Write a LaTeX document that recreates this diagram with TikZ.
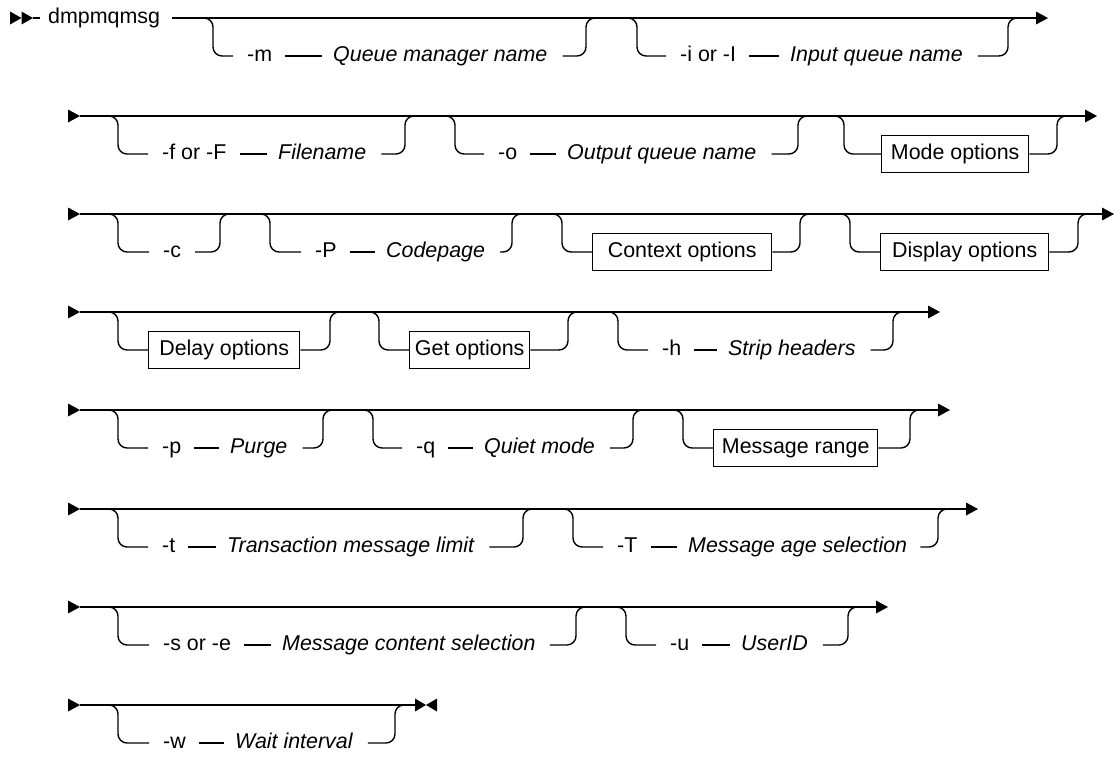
\documentclass[tikz,border=0pt]{standalone}
\usepackage{fontspec}
\setmainfont{Liberation Sans}
\newcommand\grpin[3]{\draw[trk] ([xshift=-12pt]#1) -- (#1) |- ([xshift=-#3]#2.west);}
\newcommand\grpout[3]{\draw[trk] ([xshift=#3]#2.east) -| (#1) -- ([xshift=12pt]#1);}
\newcommand\dashln[2]{\draw[ln] ([xshift=13pt]#1.east) -- ([xshift=-11pt]#2.west);}
\newcommand\rtip[1]{\fill (#1) -- ++(-12,-6.5) -- ++(0,13) -- cycle;}
\begin{document}
\begin{tikzpicture}[x=1pt,y=-1pt,
  ln/.style={line width=1.4pt},
  trk/.style={line width=1.4pt, rounded corners=9pt},
  kw/.style={font=\fontsize{21.4}{25}\selectfont, inner sep=0pt, anchor=west, text height=14pt, text depth=4pt},
  var/.style={kw, font=\fontsize{21.4}{25}\selectfont\itshape},
  optbox/.style={draw, line width=1.4pt, minimum height=37pt, inner sep=0pt, font=\fontsize{21.4}{25}\selectfont, text height=14pt, text depth=4pt, anchor=west},
]
\useasboundingbox (0,0) rectangle (1115,756);

% ---------------- Row 1 ----------------
\fill (10,11.5) -- (21.5,18) -- (10,24.5) -- cycle;
\fill (21.5,11.5) -- (33,18) -- (21.5,24.5) -- cycle;
\coordinate (r1s) at (33,18);
\coordinate (r1e) at (1048,18);
\node[kw] (cmd) at (48,18) {dmpmqmsg};
\draw[ln] (r1s) -- ([xshift=-8pt]cmd.west);
\draw[ln] ([xshift=12pt]cmd.east) -- ([xshift=-6pt]r1e);
\rtip{r1e}
\coordinate (aL) at (213,18); \coordinate (aR) at (586,18);
\node[kw] (oM) at (247,56) {-m};
\node[var] (vQM) at (333,56) {Queue manager name};
\grpin{aL}{oM}{14pt} \dashln{oM}{vQM} \grpout{aR}{vQM}{15pt}
\coordinate (bL) at (637,18); \coordinate (bR) at (1008,18);
\node[kw] (oI) at (680,56) {-i or -I};
\node[var] (vIQ) at (790,56) {Input queue name};
\grpin{bL}{oI}{14pt} \dashln{oI}{vIQ} \grpout{bR}{vIQ}{15pt}

% ---------------- Row 2 ----------------
\fill (68,109.5) -- (80,116) -- (68,122.5) -- cycle;
\coordinate (r2s) at (80,116); \coordinate (r2e) at (1097,116);
\draw[ln] (r2s) -- ([xshift=-6pt]r2e); \rtip{r2e}
\coordinate (cL) at (118,116); \coordinate (cR) at (405,116);
\node[kw] (oF) at (162,154) {-f or -F};
\node[var] (vFN) at (278,154) {Filename};
\grpin{cL}{oF}{14pt} \dashln{oF}{vFN} \grpout{cR}{vFN}{15pt}
\coordinate (dL) at (455,116); \coordinate (dR) at (798,116);
\node[kw] (oO) at (498,154) {-o};
\node[var] (vOQ) at (567,154) {Output queue name};
\grpin{dL}{oO}{14pt} \dashln{oO}{vOQ} \grpout{dR}{vOQ}{15pt}
\coordinate (eL) at (844,116); \coordinate (eR) at (1057,116);
\node[optbox, minimum width=147pt] (bMode) at (881,154) {Mode options};
\grpin{eL}{bMode}{0pt} \grpout{eR}{bMode}{0pt}

% ---------------- Row 3 ----------------
\fill (68,207.5) -- (80,214) -- (68,220.5) -- cycle;
\coordinate (r3s) at (80,214); \coordinate (r3e) at (1114,214);
\draw[ln] (r3s) -- ([xshift=-6pt]r3e); \rtip{r3e}
\coordinate (fL) at (118,214); \coordinate (fR) at (220,214);
\node[kw] (oC) at (163,252) {-c};
\grpin{fL}{oC}{14pt} \grpout{fR}{oC}{14pt}
\coordinate (gL) at (270,214); \coordinate (gR) at (512,214);
\node[kw] (oP) at (315,252) {-P};
\node[var] (vCP) at (386,252) {Codepage};
\grpin{gL}{oP}{14pt} \dashln{oP}{vCP} \grpout{gR}{vCP}{15pt}
\coordinate (hL) at (562,214); \coordinate (hR) at (800,214);
\node[optbox, minimum width=179pt] (bCtx) at (592,252) {Context options};
\grpin{hL}{bCtx}{0pt} \grpout{hR}{bCtx}{0pt}
\coordinate (iL) at (850,214); \coordinate (iR) at (1078,214);
\node[optbox, minimum width=168pt] (bDisp) at (880,252) {Display options};
\grpin{iL}{bDisp}{0pt} \grpout{iR}{bDisp}{0pt}

% ---------------- Row 4 ----------------
\fill (68,305.5) -- (80,312) -- (68,318.5) -- cycle;
\coordinate (r4s) at (80,312); \coordinate (r4e) at (940,312);
\draw[ln] (r4s) -- ([xshift=-6pt]r4e); \rtip{r4e}
\coordinate (jL) at (118,312); \coordinate (jR) at (330,312);
\node[optbox, minimum width=151pt] (bDelay) at (148,350) {Delay options};
\grpin{jL}{bDelay}{0pt} \grpout{jR}{bDelay}{0pt}
\coordinate (kL) at (379,312); \coordinate (kR) at (568,312);
\node[optbox, minimum width=120pt] (bGet) at (409,350) {Get options};
\grpin{kL}{bGet}{0pt} \grpout{kR}{bGet}{0pt}
\coordinate (lL) at (618,312); \coordinate (lR) at (893,312);
\node[kw] (oH) at (662,350) {-h};
\node[var] (vSH) at (728,350) {Strip headers};
\grpin{lL}{oH}{14pt} \dashln{oH}{vSH} \grpout{lR}{vSH}{15pt}

% ---------------- Row 5 ----------------
\fill (68,403.5) -- (80,410) -- (68,416.5) -- cycle;
\coordinate (r5s) at (80,410); \coordinate (r5e) at (950,410);
\draw[ln] (r5s) -- ([xshift=-6pt]r5e); \rtip{r5e}
\coordinate (mL) at (118,410); \coordinate (mR) at (323,410);
\node[kw] (oPp) at (162,448) {-p};
\node[var] (vPu) at (230,448) {Purge};
\grpin{mL}{oPp}{14pt} \dashln{oPp}{vPu} \grpout{mR}{vPu}{15pt}
\coordinate (nL) at (373,410); \coordinate (nR) at (633,410);
\node[kw] (oQ) at (416,448) {-q};
\node[var] (vQu) at (484,448) {Quiet mode};
\grpin{nL}{oQ}{14pt} \dashln{oQ}{vQu} \grpout{nR}{vQu}{15pt}
\coordinate (pL) at (683,410); \coordinate (pR) at (910,410);
\node[optbox, minimum width=164pt] (bMR) at (713,448) {Message range};
\grpin{pL}{bMR}{0pt} \grpout{pR}{bMR}{0pt}

% ---------------- Row 6 ----------------
\fill (68,502.5) -- (80,509) -- (68,515.5) -- cycle;
\coordinate (r6s) at (80,509); \coordinate (r6e) at (978,509);
\draw[ln] (r6s) -- ([xshift=-6pt]r6e); \rtip{r6e}
\coordinate (qL) at (118,509); \coordinate (qR) at (523,509);
\node[kw] (oT) at (162,547) {-t};
\node[var] (vTL) at (227,547) {Transaction message limit};
\grpin{qL}{oT}{14pt} \dashln{oT}{vTL} \grpout{qR}{vTL}{15pt}
\coordinate (sL) at (573,509); \coordinate (sR) at (938,509);
\node[kw] (oTT) at (617,547) {-T};
\node[var] (vMA) at (688,547) {Message age selection};
\grpin{sL}{oTT}{14pt} \dashln{oTT}{vMA} \grpout{sR}{vMA}{13pt}

% ---------------- Row 7 ----------------
\fill (68,600.5) -- (80,607) -- (68,613.5) -- cycle;
\coordinate (r7s) at (80,607); \coordinate (r7e) at (888,607);
\draw[ln] (r7s) -- ([xshift=-6pt]r7e); \rtip{r7e}
\coordinate (tL) at (118,607); \coordinate (tR) at (576,607);
\node[kw] (oS) at (163,645) {-s or -e};
\node[var] (vMC) at (282,645) {Message content selection};
\grpin{tL}{oS}{14pt} \dashln{oS}{vMC} \grpout{tR}{vMC}{14pt}
\coordinate (uL) at (626,607); \coordinate (uR) at (848,607);
\node[kw] (oU) at (670,645) {-u};
\node[var] (vUI) at (741,645) {UserID};
\grpin{uL}{oU}{14pt} \dashln{oU}{vUI} \grpout{uR}{vUI}{15pt}

% ---------------- Row 8 ----------------
\fill (68,698.5) -- (80,705) -- (68,711.5) -- cycle;
\coordinate (r8s) at (80,705); \coordinate (r8e) at (415,705);
\draw[ln] (r8s) -- (r8e);
\fill (415,698.5) -- (426,705) -- (415,711.5) -- cycle;
\fill (437,698.5) -- (426,705) -- (437,711.5) -- cycle;
\coordinate (wL) at (118,705); \coordinate (wR) at (395,705);
\node[kw] (oW) at (163,743) {-w};
\node[var] (vWI) at (235,743) {Wait interval};
\grpin{wL}{oW}{14pt} \dashln{oW}{vWI} \grpout{wR}{vWI}{15pt}
\end{tikzpicture}
\end{document}
